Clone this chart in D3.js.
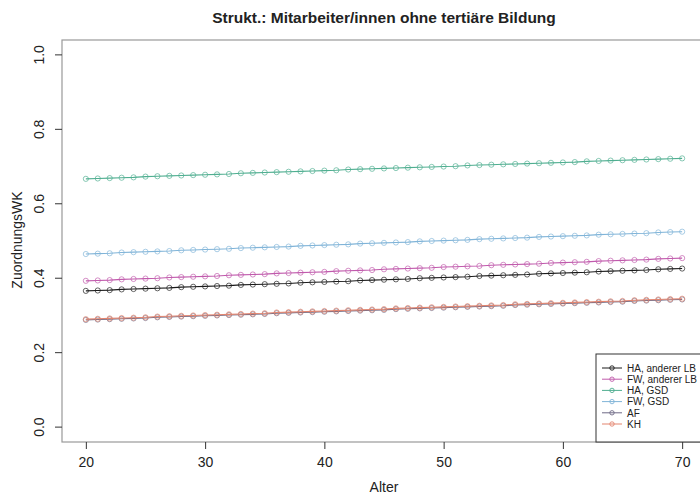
<!DOCTYPE html>
<html><head><meta charset="utf-8">
<script src="https://cdn.jsdelivr.net/npm/d3@7"></script>
<style>body{margin:0;background:#fff}svg{display:block;font-family:Arial,"Liberation Sans",sans-serif}</style>
</head><body>
<svg id="c" width="700" height="497"></svg>
<script>
const ages = d3.range(20, 71);
const seriesNames = ["HA, anderer LB","FW, anderer LB","HA, GSD","FW, GSD","AF","KH"];
const haAnderer = [0.366,0.367,0.368,0.370,0.371,0.372,0.373,0.374,0.376,0.377,0.378,0.379,0.380,0.382,0.383,0.384,0.385,0.386,0.388,0.389,0.390,0.391,0.392,0.394,0.395,0.396,0.397,0.398,0.400,0.401,0.402,0.403,0.404,0.406,0.407,0.408,0.409,0.410,0.412,0.413,0.414,0.415,0.416,0.418,0.419,0.420,0.421,0.422,0.424,0.425,0.426];
const fwAnderer = [0.393,0.394,0.395,0.397,0.398,0.399,0.400,0.402,0.403,0.404,0.405,0.406,0.408,0.409,0.410,0.411,0.413,0.414,0.415,0.416,0.417,0.419,0.420,0.421,0.422,0.424,0.425,0.426,0.427,0.428,0.430,0.431,0.432,0.433,0.435,0.436,0.437,0.438,0.439,0.441,0.442,0.443,0.444,0.446,0.447,0.448,0.449,0.450,0.452,0.453,0.454];
const haGSD = [0.667,0.668,0.669,0.670,0.671,0.673,0.674,0.675,0.676,0.677,0.678,0.679,0.680,0.682,0.683,0.684,0.685,0.686,0.687,0.688,0.689,0.690,0.692,0.693,0.694,0.695,0.696,0.697,0.698,0.699,0.700,0.701,0.703,0.704,0.705,0.706,0.707,0.708,0.709,0.710,0.711,0.712,0.714,0.715,0.716,0.717,0.718,0.719,0.720,0.721,0.722];
const fwGSD = [0.465,0.466,0.467,0.469,0.470,0.471,0.472,0.473,0.475,0.476,0.477,0.478,0.479,0.481,0.482,0.483,0.484,0.485,0.487,0.488,0.489,0.490,0.491,0.493,0.494,0.495,0.496,0.497,0.499,0.500,0.501,0.502,0.503,0.505,0.506,0.507,0.508,0.509,0.511,0.512,0.513,0.514,0.515,0.517,0.518,0.519,0.520,0.521,0.523,0.524,0.525];
const af = [0.288,0.289,0.290,0.291,0.292,0.293,0.295,0.296,0.297,0.298,0.299,0.300,0.301,0.302,0.303,0.304,0.306,0.307,0.308,0.309,0.310,0.311,0.312,0.313,0.314,0.315,0.317,0.318,0.319,0.320,0.321,0.322,0.323,0.324,0.325,0.326,0.328,0.329,0.330,0.331,0.332,0.333,0.334,0.335,0.336,0.337,0.339,0.340,0.341,0.342,0.343];
const kh = [0.290,0.291,0.292,0.293,0.294,0.295,0.297,0.298,0.299,0.300,0.301,0.302,0.303,0.304,0.305,0.306,0.308,0.309,0.310,0.311,0.312,0.313,0.314,0.315,0.316,0.317,0.319,0.320,0.321,0.322,0.323,0.324,0.325,0.326,0.327,0.328,0.330,0.331,0.332,0.333,0.334,0.335,0.336,0.337,0.338,0.339,0.341,0.342,0.343,0.344,0.345];
const xTicks = [20,30,40,50,60,70];
const yTicks = [0.0,0.2,0.4,0.6,0.8,1.0];
const colors = ["#1a1a1a","#c05aac","#4fae90","#80b4d8","#6e6a86","#e3856f"];
const allSeries = [haAnderer, fwAnderer, haGSD, fwGSD, af, kh];

const svg = d3.select("#c");
const x = d3.scaleLinear().domain([18, 72]).range([62, 706]);
const y = d3.scaleLinear().domain([-0.04, 1.04]).range([442, 40]);

// title
svg.append("text").attr("x", 384).attr("y", 23).attr("text-anchor","middle")
  .attr("font-size", 15.5).attr("font-weight","bold").attr("fill","#222")
  .text("Strukt.: Mitarbeiter/innen ohne tertiäre Bildung");

// box
svg.append("rect").attr("x", 62).attr("y", 40).attr("width", 644).attr("height", 402)
  .attr("fill","none").attr("stroke","#999").attr("stroke-width",1.2);

// axes
const xAxis = svg.append("g").attr("transform","translate(0,442)")
  .call(d3.axisBottom(x).tickValues(xTicks).tickSize(7).tickSizeOuter(0).tickFormat(d3.format("d")));
xAxis.select(".domain").remove();
xAxis.selectAll("line").attr("stroke","#333");
xAxis.selectAll("text").attr("font-size",14).attr("fill","#222").attr("dy","1.05em").attr("font-family","Arial, Liberation Sans, sans-serif");

const yAxis = svg.append("g").attr("transform","translate(62,0)")
  .call(d3.axisLeft(y).tickValues(yTicks).tickSize(7).tickSizeOuter(0).tickFormat(d3.format(".1f")));
yAxis.select(".domain").remove();
yAxis.selectAll("line").attr("stroke","#333");
yAxis.selectAll("text").attr("font-size",14).attr("fill","#222").attr("font-family","Arial, Liberation Sans, sans-serif")
  .attr("transform", function(d){ return `translate(${-10 - 8},${y(d)}) rotate(-90)`; })
  .attr("x",0).attr("y",0).attr("dy","0").attr("text-anchor","middle");
yAxis.selectAll(".tick").attr("transform", null);
yAxis.selectAll(".tick line").attr("transform", d => `translate(0,${y(d)})`);

// axis titles
svg.append("text").attr("x", 384).attr("y", 492).attr("text-anchor","middle")
  .attr("font-size",14).attr("fill","#222").text("Alter");
svg.append("text").attr("transform","translate(22,240) rotate(-90)").attr("text-anchor","middle")
  .attr("font-size",14).attr("fill","#222").text("ZuordnungsWK");

// series
const line = d3.line().x((d,i)=>x(ages[i])).y(d=>y(d));
const order = [2,3,1,0,4,5];
order.forEach(k => {
  const vals = allSeries[k];
  svg.append("path").datum(vals).attr("d", line).attr("fill","none")
    .attr("stroke", colors[k]).attr("stroke-width",1.1);
  svg.append("g").selectAll("circle").data(vals).join("circle")
    .attr("cx",(d,i)=>x(ages[i])).attr("cy",d=>y(d)).attr("r",2.6)
    .attr("fill","none").attr("stroke",colors[k]).attr("stroke-opacity",0.75).attr("stroke-width",0.9);
});

// legend
const lg = svg.append("g");
lg.append("rect").attr("x",596).attr("y",354).attr("width",120).attr("height",88)
  .attr("fill","#fff").attr("stroke","#333").attr("stroke-width",1);
seriesNames.forEach((name,i) => {
  const yy = 368 + i*11.2;
  lg.append("line").attr("x1",602).attr("x2",622).attr("y1",yy).attr("y2",yy)
    .attr("stroke",colors[i]).attr("stroke-width",1);
  lg.append("circle").attr("cx",612).attr("cy",yy).attr("r",2.2).attr("fill","none")
    .attr("stroke",colors[i]).attr("stroke-width",0.9);
  lg.append("text").attr("x",627).attr("y",yy+3.8).attr("font-size",10).attr("fill","#222").text(name);
});
</script>
</body></html>
